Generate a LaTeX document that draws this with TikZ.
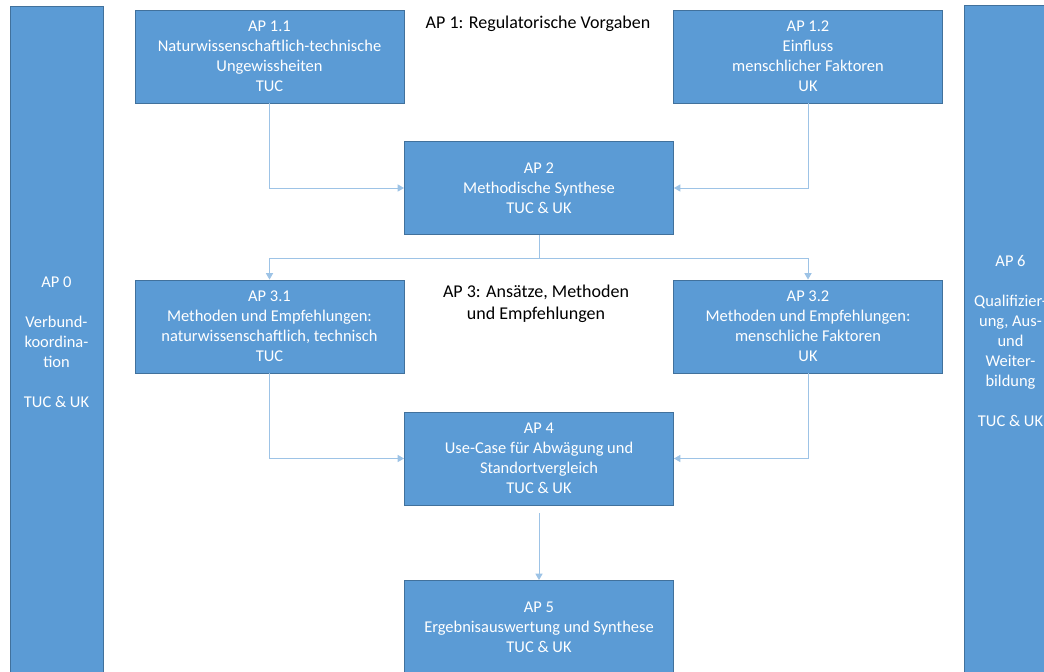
\documentclass[tikz,border=0pt]{standalone}
\usepackage{fontspec}
\setmainfont{Carlito}
\usetikzlibrary{arrows.meta}
\definecolor{apblue}{HTML}{5B9BD5}
\definecolor{apedge}{HTML}{41719C}
\definecolor{aplink}{HTML}{9DC3E6}

\begin{document}
\begin{tikzpicture}[x=0.025cm,y=-0.025cm,
  ap/.style={draw=apedge,line width=0.6pt,fill=apblue,text=white,align=center,inner sep=0pt,
    font=\fontsize{11.7pt}{14.2pt}\selectfont,minimum width=6.725cm,minimum height=2.325cm},
  bar/.style={ap,minimum width=2.325cm,minimum height=16.75cm},
  link/.style={draw=aplink,line width=0.7pt,-{Triangle[length=4.5pt,width=5pt]}},
  head/.style={align=center,font=\fontsize{12.8pt}{15.6pt}\selectfont}]
\clip (0,0) rectangle (1044,671);

\node[bar] (ap0) at (56.5,342) {AP 0\\[14.2pt]Verbund-\\koordina-\\tion\\[14.2pt]TUC \& UK};
\node[bar] (ap6) at (1010.5,341) {AP 6\\[14.2pt]Qualifizier-\\ung, Aus-\\und\\Weiter-\\bildung\\[14.2pt]TUC \& UK};

\node[ap] (ap11) at (269.5,56.5) {AP 1.1\\Naturwissenschaftlich-technische\\Ungewissheiten\\TUC};
\node[ap] (ap12) at (808,56.5) {AP 1.2\\Einfluss\\menschlicher Faktoren\\UK};
\node[ap] (ap2) at (539,188) {AP 2\\Methodische Synthese\\TUC \& UK};
\node[ap] (ap31) at (269.5,326.5) {AP 3.1\\Methoden und Empfehlungen:\\naturwissenschaftlich, technisch\\TUC};
\node[ap] (ap32) at (808,326.5) {AP 3.2\\Methoden und Empfehlungen:\\menschliche Faktoren\\UK};
\node[ap] (ap4) at (539,458.5) {AP 4\\Use-Case für Abwägung und\\Standortvergleich\\TUC \& UK};
\node[ap] (ap5) at (539,627) {AP 5\\Ergebnisauswertung und Synthese\\TUC \& UK};

\node[head] (title1) at (538,24) {AP 1: Regulatorische Vorgaben};
\node[head] (title3) at (536,304) {AP 3: Ansätze, Methoden\\und Empfehlungen};

\coordinate (split) at (539,258);
\draw[link] (ap11.south) |- (ap2.west);
\draw[link] (ap12.south) |- (ap2.east);
\draw[link] (ap2.south) -- (split) -| (ap31.north);
\draw[link] (split) -| (ap32.north);
\draw[link] (ap31.south) |- (ap4.west);
\draw[link] (ap32.south) |- (ap4.east);
\draw[link,shorten <=5.7pt] (ap4.south) -- (ap5.north);

\end{tikzpicture}
\end{document}
